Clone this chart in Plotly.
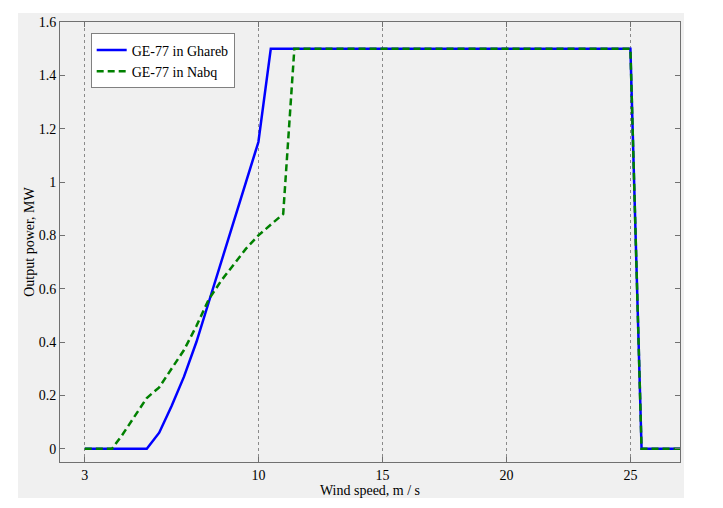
import plotly.graph_objects as go

# Data
ghareb_x = [3, 5.5, 6, 6.5, 7, 7.5, 8, 8.5, 9, 9.5, 10, 10.5, 25, 25.45, 27]
ghareb_y = [0, 0, 0.06, 0.16, 0.27, 0.40, 0.55, 0.70, 0.85, 1.00, 1.15, 1.5, 1.5, 0, 0]

nabq_x = [3, 4.1, 4.5, 5, 5.5, 6, 6.5, 7, 7.5, 8, 8.5, 9, 9.5, 10, 10.5, 11, 11.45, 25, 25.45, 27]
nabq_y = [0, 0, 0.05, 0.12, 0.19, 0.23, 0.30, 0.37, 0.46, 0.56, 0.63, 0.69, 0.75, 0.80, 0.84, 0.88, 1.5, 1.5, 0, 0]

x_ticks = [3, 10, 15, 20, 25]
y_ticks = [0, 0.2, 0.4, 0.6, 0.8, 1, 1.2, 1.4, 1.6]
y_labels = ["0", "0.2", "0.4", "0.6", "0.8", "1", "1.2", "1.4", "1.6"]

font = "Liberation Serif"

fig = go.Figure()
fig.add_trace(go.Scatter(x=ghareb_x, y=ghareb_y, mode="lines", name="GE-77 in Ghareb",
                         line=dict(color="#0000ff", width=2.5)))
fig.add_trace(go.Scatter(x=nabq_x, y=nabq_y, mode="lines", name="GE-77 in Nabq",
                         line=dict(color="#008000", width=2.5, dash="7px,4px")))

fig.update_layout(
    width=723, height=508,
    margin=dict(l=52, r=51, t=14, b=54, autoexpand=False),
    paper_bgcolor="white", plot_bgcolor="white",
    font=dict(family=font, size=14, color="black"),
    showlegend=True,
    legend=dict(x=0.0495, y=0.974, xanchor="left", yanchor="top",
                bgcolor="white", bordercolor="#808080", borderwidth=1,
                font=dict(family=font, size=14), tracegroupgap=0, itemwidth=30),
    shapes=[dict(type="rect", xref="paper", yref="paper",
                 x0=-0.0677, x1=1.0065, y0=-0.0818, y1=1.0205,
                 fillcolor="#f0f0f0", line=dict(width=0), layer="below")],
)
fig.update_xaxes(range=[2, 27], tickvals=x_ticks, ticktext=[str(t) for t in x_ticks],
                 tickfont=dict(family=font, size=14),
                 showgrid=True, gridcolor="#8a8a8a", griddash="dot", gridwidth=1,
                 showline=True, linecolor="#707070", linewidth=1, mirror="ticks",
                 ticks="inside", ticklen=5, tickcolor="#707070", zeroline=False,
                 title=dict(text="Wind speed, m / s", standoff=0,
                            font=dict(family=font, size=14)))
fig.update_yaxes(range=[-0.05, 1.6], tickvals=y_ticks, ticktext=y_labels,
                 tickfont=dict(family=font, size=14),
                 showgrid=False,
                 showline=True, linecolor="#707070", linewidth=1, mirror="ticks",
                 ticks="inside", ticklen=5, tickcolor="#707070", zeroline=False,
                 title=dict(text="Output power, MW", standoff=0,
                            font=dict(family=font, size=14)))

fig.write_html("out.html")
